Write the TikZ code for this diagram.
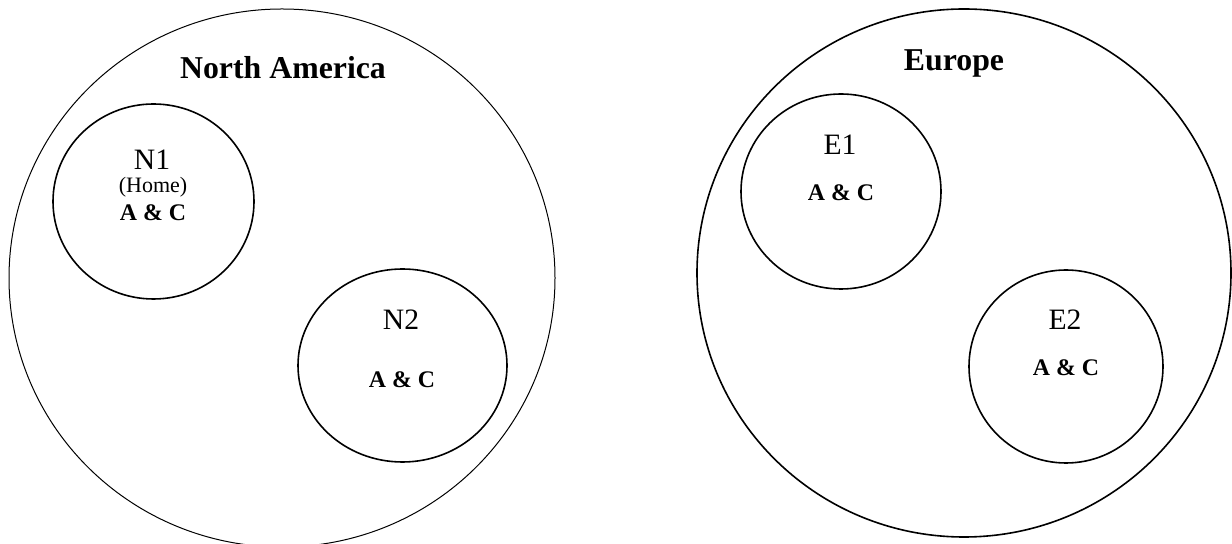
\documentclass[tikz,border=0pt]{standalone}
\usepackage{fontspec}
\setmainfont{Liberation Serif}
\usetikzlibrary{shapes.geometric}
\tikzset{
  zone/.style={draw, ellipse, inner sep=0pt},
  site/.style={draw, ellipse, inner sep=0pt, line width=0.8pt},
  zonetitle/.style={anchor=base, inner sep=0pt, font=\fontsize{15.9}{19}\selectfont\bfseries},
  sitename/.style={anchor=base, inner sep=0pt, font=\fontsize{14.8}{17}\selectfont},
  sitenote/.style={anchor=base, inner sep=0pt, font=\fontsize{11}{13}\selectfont},
  siteroles/.style={anchor=base, inner sep=0pt, font=\fontsize{11.9}{14}\selectfont\bfseries}
}
\begin{document}
\begin{tikzpicture}[x=0.5pt, y=-0.5pt]
        \useasboundingbox (0,0) rectangle (1232,544);
        \node[zone, line width=0.5pt, minimum width=273pt, minimum height=269pt] (na) at (282,278) {};
        \node[zone, line width=0.8pt, minimum width=267pt, minimum height=264pt] (eu) at (964,273) {};
        \node[zonetitle] (natitle) at (283,79) {North America};
        \node[zonetitle] (eutitle) at (954,71) {Europe};
        \node[site, minimum width=100.5pt, minimum height=97.5pt] (n1) at (153.5,201.5) {};
        \node[site, minimum width=104.5pt, minimum height=96.5pt] (n2) at (402.5,365.5) {};
        \node[site, minimum width=100pt, minimum height=97.5pt] (e1) at (841,191.5) {};
        \node[site, minimum width=97pt, minimum height=96.5pt] (e2) at (1066,366.5) {};
        \node[sitename] (n1name) at (152,170) {N1};
        \node[sitenote] (n1home) at (153,193) {(Home)};
        \node[siteroles] (n1roles) at (153,221) {A \& C};
        \node[sitename] (n2name) at (401,330) {N2};
        \node[siteroles] (n2roles) at (402,388) {A \& C};
        \node[sitename] (e1name) at (840,154.5) {E1};
        \node[siteroles] (e1roles) at (841,201) {A \& C};
        \node[sitename] (e2name) at (1065,330) {E2};
        \node[siteroles] (e2roles) at (1066,376) {A \& C};
    \end{tikzpicture}
\end{document}
